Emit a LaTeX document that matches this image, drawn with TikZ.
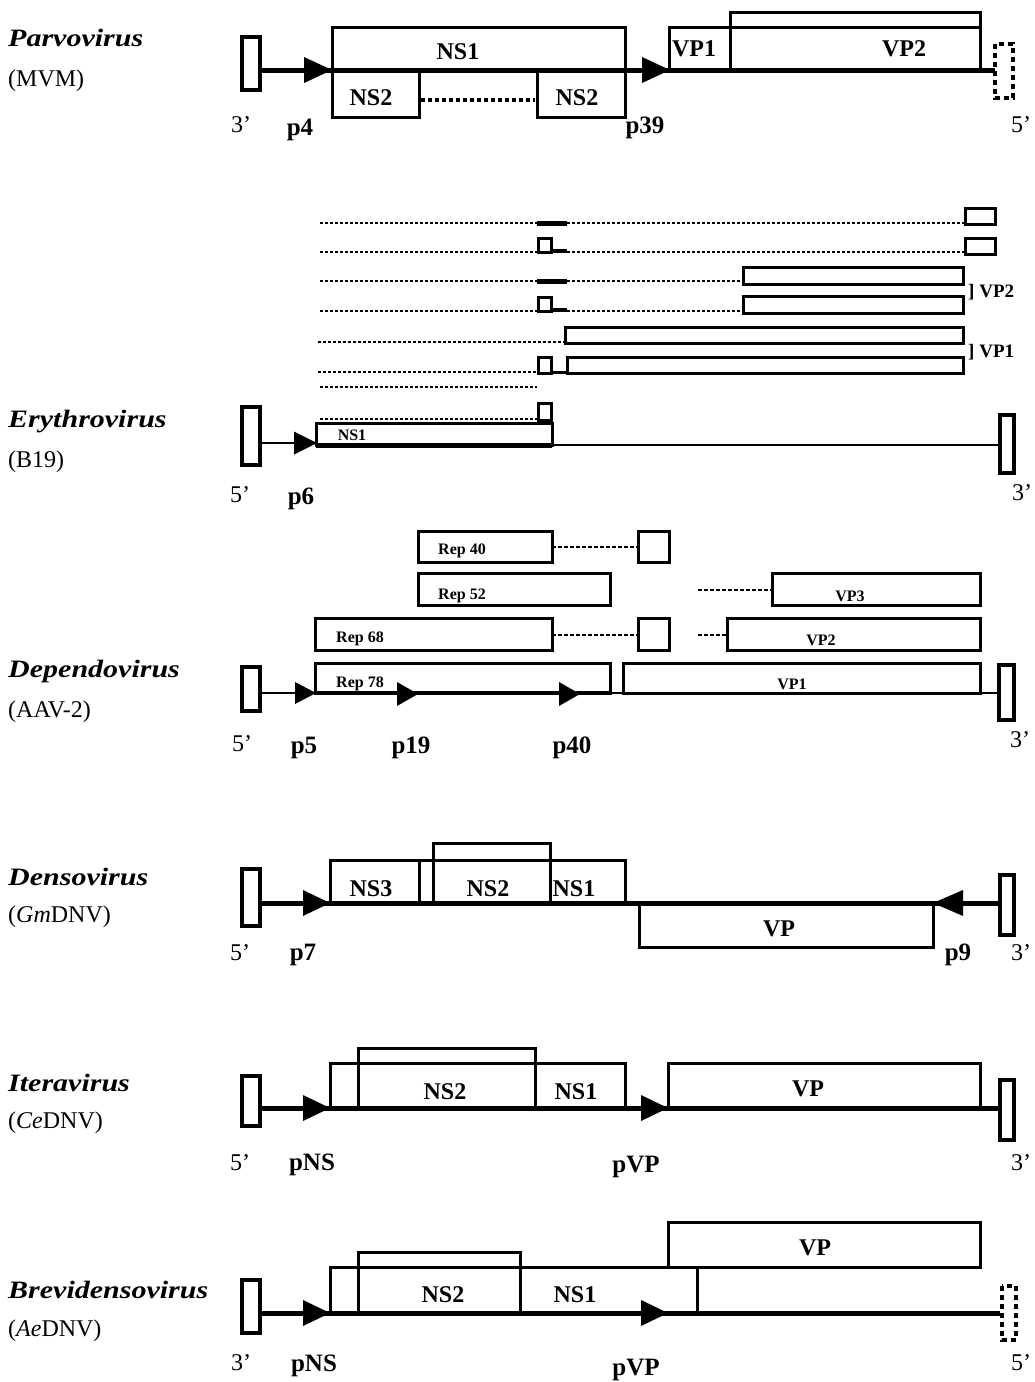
\documentclass[tikz,border=0pt]{standalone}
\usepackage{fontspec}
\setmainfont{Liberation Serif}
\newcommand\rtri[4]{\fill (#1,#2) -- ++(-#3,-#4) -- ++(0,2*#4) -- cycle;}
\newcommand\ltri[4]{\fill (#1,#2) -- ++(#3,-#4) -- ++(0,2*#4) -- cycle;}
\begin{document}
\begin{tikzpicture}[x=1pt,y=-1pt,
 boxl/.style={line width=3pt},
 heavy/.style={line width=5pt},
 hair/.style={line width=1.8pt},
 pin/.style={line width=4.5pt},
 dpin/.style={line width=4pt, dash pattern=on 5pt off 4pt},
 dots/.style={line width=2.8pt, dash pattern=on 2.5pt off 2.5pt},
 bdots/.style={line width=4pt, dash pattern=on 4pt off 3pt},
 sdash/.style={line width=1.4pt, dash pattern=on 4pt off 2pt},
 lab/.style={font=\fontsize{24}{28}\selectfont\bfseries, inner sep=0pt},
 slab/.style={font=\fontsize{16}{18}\selectfont\bfseries, inner sep=0pt},
 mlab/.style={font=\fontsize{19}{22}\selectfont\bfseries, inner sep=0pt, anchor=west},
 plab/.style={font=\fontsize{25}{28}\selectfont\bfseries, inner sep=0pt, anchor=base},
 elab/.style={font=\fontsize{24}{28}\selectfont, inner sep=0pt, anchor=base},
 vname/.style={font=\fontsize{25}{28}\selectfont\bfseries\itshape, inner sep=0pt, anchor=base west, xscale=1.2},
 vsub/.style={font=\fontsize{24}{28}\selectfont, inner sep=0pt, anchor=base west},
]
\fill[white] (0,0) rectangle (1034,1382);
\useasboundingbox (0,0) rectangle (1034,1382);

% ---------------- Parvovirus (MVM)
\node[vname] (n1) at (8,46) {Parvovirus};
\node[vsub] (n1s) at (8,86) {(MVM)};
\draw[pin] (242,37) rectangle (260,90);
\draw[boxl] (332,27) rectangle (625,70);
\draw[boxl] (332,70) rectangle (419,117);
\draw[boxl] (537,70) rectangle (625,117);
\draw[bdots] (421,100) -- (535,100);
\draw[boxl] (669,27) rectangle (980,70);
\draw[boxl] (730,12) rectangle (980,27);
\draw[boxl] (730,27) -- (730,70);
\draw[heavy] (260,70) -- (995,70);
\rtri{332}{70}{28}{13}
\rtri{670}{70}{28}{13}
\draw[dpin] (995,44) rectangle (1013,98);
\node[lab] (a1) at (458,52) {NS1};
\node[lab] (a2) at (371,98) {NS2};
\node[lab] (a3) at (577,98) {NS2};
\node[lab] (a4) at (694,49) {VP1};
\node[lab] (a5) at (904,49) {VP2};
\node[elab] (a6) at (241,132) {3’};
\node[plab] (a7) at (300,135) {p4};
\node[plab] (a8) at (645,133) {p39};
\node[elab] (a9) at (1021,132) {5’};

% ---------------- Erythrovirus (B19)
\node[vname] (n2) at (8,427) {Erythrovirus};
\node[vsub] (n2s) at (8,467) {(B19)};
% transcripts
\draw[dots] (320,223) -- (537,223);
\draw[heavy] (537,223) -- (567,223);
\draw[dots] (567,223) -- (965,223);
\draw[boxl] (965,208) rectangle (995,224);
\draw[dots] (320,252) -- (538,252);
\draw[boxl] (538,238) rectangle (551,252);
\draw[line width=4pt] (551,251) -- (567,251);
\draw[dots] (567,252) -- (965,252);
\draw[boxl] (965,238) rectangle (995,254);
\draw[dots] (320,281) -- (537,281);
\draw[heavy] (537,281) -- (567,281);
\draw[dots] (567,281) -- (743,281);
\draw[boxl] (743,267) rectangle (963,284);
\draw[dots] (320,311) -- (538,311);
\draw[boxl] (538,297) rectangle (551,311);
\draw[line width=4pt] (551,310) -- (567,310);
\draw[dots] (567,311) -- (743,311);
\draw[boxl] (743,296) rectangle (963,313);
\draw[dots] (318,342) -- (565,342);
\draw[boxl] (565,327) rectangle (963,343);
\draw[dots] (318,372) -- (538,372);
\draw[boxl] (538,357) rectangle (551,373);
\draw[line width=3pt] (551,372) -- (567,372);
\draw[boxl] (567,357) rectangle (963,373);
\draw[dots] (320,387) -- (537,387);
\draw[dots] (320,419) -- (538,419);
\draw[boxl] (538,403) rectangle (551,420);
\node[mlab] (b1) at (968,292) {] VP2};
\node[mlab] (b2) at (968,352) {] VP1};
% genome
\draw[pin] (242,407) rectangle (260,465);
\draw[hair] (260,443) -- (300,443);
\rtri{317}{443}{23}{11.5}
\draw[boxl] (316,423) rectangle (552,445);
\draw[heavy] (316,445) -- (552,445);
\draw[hair] (552,445) -- (1000,445);
\draw[pin] (1000,415) rectangle (1014,473);
\node[slab] (b3) at (352,435) {NS1};
\node[elab] (b4) at (240,502) {5’};
\node[plab] (b5) at (301,504) {p6};
\node[elab] (b6) at (1022,500) {3’};

% ---------------- Dependovirus (AAV-2)
\node[vname] (n3) at (8,677) {Dependovirus};
\node[vsub] (n3s) at (8,717) {(AAV-2)};
\draw[pin] (242,667) rectangle (260,711);
\draw[hair] (260,693) -- (999,693);
\draw[boxl] (418,531) rectangle (552,562);
\draw[boxl] (638,531) rectangle (669,562);
\draw[sdash] (552,547) -- (638,547);
\draw[boxl] (418,573) rectangle (610,605);
\draw[sdash] (698,590) -- (772,590);
\draw[boxl] (772,573) rectangle (980,605);
\draw[boxl] (315,618) rectangle (552,650);
\draw[boxl] (638,618) rectangle (669,650);
\draw[sdash] (552,635) -- (638,635);
\draw[sdash] (698,635) -- (727,635);
\draw[boxl] (727,618) rectangle (980,650);
\draw[boxl] (315,663) rectangle (610,693);
\draw[line width=3.5pt] (315,693) -- (610,693);
\draw[boxl] (623,663) rectangle (980,693);
\rtri{316}{693}{21}{11}
\rtri{418}{694}{21}{12}
\rtri{580}{694}{21}{12}
\draw[pin] (999,665) rectangle (1014,720);
\node[slab] (c1) at (462,551) {Rep 40};
\node[slab] (c2) at (462,596) {Rep 52};
\node[slab] (c3) at (360,639) {Rep 68};
\node[slab] (c4) at (360,684) {Rep 78};
\node[slab] (c5) at (850,596) {VP3};
\node[slab] (c6) at (821,640) {VP2};
\node[slab] (c7) at (792,684) {VP1};
\node[elab] (c8) at (242,751) {5’};
\node[plab] (c9) at (304,753) {p5};
\node[plab] (c10) at (411,753) {p19};
\node[plab] (c11) at (572,753) {p40};
\node[elab] (c12) at (1020,747) {3’};

% ---------------- Densovirus (GmDNV)
\node[vname] (n4) at (8,885) {Densovirus};
\node[vsub] (n4s) at (8,922) {(\textit{Gm}DNV)};
\draw[pin] (242,869) rectangle (260,926);
\draw[boxl] (330,860) rectangle (625,903);
\draw[boxl] (433,843) rectangle (550,860);
\draw[boxl] (419,860) -- (419,903);
\draw[boxl] (433,860) -- (433,903);
\draw[boxl] (550,860) -- (550,903);
\draw[boxl] (639,903) rectangle (933,947);
\draw[heavy] (260,903) -- (1000,903);
\rtri{330}{903}{27}{13}
\ltri{933}{903}{30}{13}
\draw[pin] (1000,875) rectangle (1014,935);
\node[lab] (d1) at (371,889) {NS3};
\node[lab] (d2) at (488,889) {NS2};
\node[lab] (d3) at (574,889) {NS1};
\node[lab] (d4) at (779,929) {VP};
\node[elab] (d5) at (240,960) {5’};
\node[plab] (d6) at (303,960) {p7};
\node[plab] (d7) at (958,960) {p9};
\node[elab] (d8) at (1021,960) {3’};

% ---------------- Iteravirus (CeDNV)
\node[vname] (n5) at (8,1091) {Iteravirus};
\node[vsub] (n5s) at (8,1128) {(\textit{Ce}DNV)};
\draw[pin] (242,1076) rectangle (260,1126);
\draw[boxl] (330,1063) rectangle (625,1108);
\draw[boxl] (358,1048) rectangle (535,1063);
\draw[boxl] (358,1063) -- (358,1108);
\draw[boxl] (535,1063) -- (535,1108);
\draw[boxl] (668,1063) rectangle (980,1108);
\draw[heavy] (260,1108) -- (1000,1108);
\rtri{330}{1108}{27}{13}
\rtri{668}{1108}{27}{13}
\draw[pin] (1000,1080) rectangle (1014,1140);
\node[lab] (e1) at (445,1092) {NS2};
\node[lab] (e2) at (576,1092) {NS1};
\node[lab] (e3) at (808,1089) {VP};
\node[elab] (e4) at (240,1170) {5’};
\node[plab] (e5) at (312,1170) {pNS};
\node[plab] (e6) at (636,1172) {pVP};
\node[elab] (e7) at (1021,1170) {3’};

% ---------------- Brevidensovirus (AeDNV)
\node[vname] (n6) at (8,1298) {Brevidensovirus};
\node[vsub] (n6s) at (8,1336) {(\textit{Ae}DNV)};
\draw[pin] (242,1280) rectangle (260,1333);
\draw[boxl] (330,1267) rectangle (697,1313);
\draw[boxl] (358,1252) rectangle (520,1267);
\draw[boxl] (358,1267) -- (358,1313);
\draw[boxl] (520,1267) -- (520,1313);
\draw[boxl] (668,1222) rectangle (980,1267);
\draw[heavy] (260,1313) -- (1000,1313);
\rtri{330}{1313}{27}{13}
\rtri{668}{1313}{27}{13}
\draw[dpin] (1002,1286) rectangle (1016,1340);
\node[lab] (f1) at (443,1295) {NS2};
\node[lab] (f2) at (575,1295) {NS1};
\node[lab] (f3) at (815,1248) {VP};
\node[elab] (f4) at (241,1370) {3’};
\node[plab] (f5) at (314,1371) {pNS};
\node[plab] (f6) at (636,1375) {pVP};
\node[elab] (f7) at (1021,1370) {5’};
\end{tikzpicture}
\end{document}
